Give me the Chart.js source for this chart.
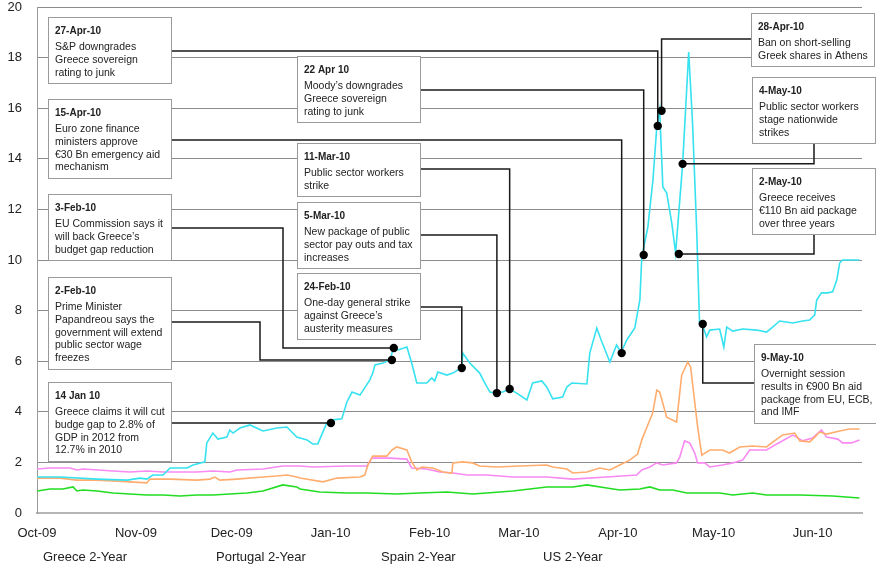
<!DOCTYPE html>
<html><head><meta charset="utf-8">
<script src="https://cdn.jsdelivr.net/npm/chart.js@4.4.0/dist/chart.umd.min.js"></script>
<style>html,body{margin:0;padding:0;background:#fff;}#wrap{width:876px;height:567px;}</style>
</head><body><div id="wrap"><canvas id="c" width="876" height="567"></canvas></div>
<script>
// x values are days since 1-Oct-2009
const monthTickDays = [0, 31, 61, 92, 123, 151, 182, 212, 243];
const monthTickLabels = ['Oct-09','Nov-09','Dec-09','Jan-10','Feb-10','Mar-10','Apr-10','May-10','Jun-10'];
const seriesNames = ['Greece 2-Year','Portugal 2-Year','Spain 2-Year','US 2-Year'];

const greeceDays = [0,7.2,18.8,28.2,32.3,34.4,36.3,39.5,41.7,47.0,48.9,52.6,53.2,55.1,56.7,59.5,60.4,61.4,63.6,66.7,70.8,75.2,78.3,81.4,84.6,86.4,88.0,90.8,92.7,95.5,97.1,98.7,101.2,104.3,105.2,105.9,108.4,110.6,111.5,113.1,115.9,117.4,119.0,122.1,123.7,124.6,125.6,128.4,130.3,131.9,133.1,133.4,135.6,138.7,140.3,141.9,144.1,145.9,148.1,150.3,153.5,155.3,158.2,159.7,161.6,164.7,166.0,167.6,172.3,173.2,175.4,177.0,179.5,181.6,182.6,183.2,184.8,187.3,188.2,188.9,189.5,191.4,193.0,194.2,195.1,196.1,197.3,198.9,200.1,202.3,204.2,205.4,206.7,207.6,208.6,209.8,210.8,213.9,215.2,216.1,218.0,221.1,225.5,228.6,230.5,232.7,236.8,239.9,242.1,243.7,244.3,245.8,247.7,249.3,250.6,251.5,252.4,257.7];
const greeceYields = [1.42,1.42,1.34,1.30,1.38,1.34,1.50,1.50,1.78,1.78,1.90,2.02,2.77,3.16,2.92,3.00,3.28,3.16,3.36,3.48,3.24,3.36,3.40,3.00,2.89,2.73,2.73,3.56,3.68,3.72,4.39,4.78,4.66,5.26,5.53,5.85,5.93,6.05,6.44,6.44,6.56,5.93,5.14,5.14,5.34,5.22,5.57,5.45,5.53,5.65,5.73,6.32,5.93,5.53,5.14,4.78,4.74,4.78,4.90,4.74,4.47,5.14,5.22,4.98,4.51,4.58,4.98,5.14,5.10,6.32,7.31,6.76,5.97,6.64,6.44,6.40,6.84,7.31,7.94,8.42,10.12,11.30,13.16,15.26,15.93,12.89,12.65,11.46,10.28,13.79,18.22,15.42,11.19,7.51,7.40,6.96,7.23,7.27,6.56,7.35,7.19,7.27,7.23,7.15,7.35,7.59,7.51,7.59,7.63,7.83,8.42,8.70,8.70,8.74,9.21,9.88,10.0,10.0];

const portugalDays = [0,7.2,12.5,18.8,25.1,29.1,34.4,35.4,41.7,50.1,54.2,55.7,57.3,62.6,70.8,75.2,78.3,81.4,82.4,89.6,94.0,101.2,102.7,103.7,105.2,109.6,111.2,112.7,115.9,117.4,119.0,120.6,124.0,127.2,130.0,130.3,133.4,136.5,138.7,144.1,151.3,159.7,161.6,166.0,167.9,172.3,176.3,179.5,182.6,185.7,188.2,189.5,191.0,192.9,194.2,195.1,197.3,200.4,202.0,203.9,204.8,207.0,208.3,210.8,214.8,217.0,220.2,224.2,228.6,230.2,233.6,237.4,239.0,242.1,243.7,245.2,247.4,251.5,254.6,257.7];
const portugalYields = [1.38,1.38,1.30,1.30,1.26,1.23,1.19,1.34,1.34,1.30,1.34,1.42,1.30,1.34,1.42,1.46,1.50,1.42,1.38,1.23,1.38,1.42,1.50,1.90,2.25,2.25,2.49,2.61,2.49,2.02,1.70,1.82,1.78,1.62,1.58,1.98,2.02,1.98,1.86,1.82,1.86,1.90,1.82,1.74,1.58,1.62,1.78,1.70,1.90,2.09,2.33,2.89,3.36,3.95,4.86,4.78,3.79,3.60,5.45,5.97,5.77,3.40,2.29,2.49,2.49,2.37,2.61,2.65,2.61,2.77,3.08,3.16,2.85,2.81,3.00,3.20,3.12,3.24,3.32,3.32];

const spainDays = [0,4.1,10.3,12.5,14.4,23.8,29.1,34.4,39.5,44.8,50.1,55.1,60.4,62.6,70.8,77.0,82.4,86.4,97.1,103.4,104.9,110.6,115.9,117.4,122.1,126.2,130.3,134.7,140.9,149.1,159.7,167.9,178.5,187.9,189.5,192.0,194.2,196.1,200.4,201.4,202.9,204.5,206.1,207.0,209.2,210.8,214.8,218.0,221.1,223.3,228.6,231.8,236.8,238.0,239.9,243.0,245.8,247.4,250.9,252.4,255.2,257.7];
const spainYields = [1.74,1.78,1.78,1.70,1.74,1.66,1.62,1.66,1.62,1.62,1.62,1.66,1.62,1.70,1.74,1.86,1.86,1.82,1.86,1.86,2.17,2.17,2.13,1.78,1.74,1.62,1.58,1.50,1.50,1.42,1.42,1.34,1.42,1.50,1.70,1.82,1.98,1.90,1.98,2.21,2.85,2.77,2.37,1.98,1.98,1.82,1.90,1.98,2.09,2.49,2.49,2.73,3.08,3.00,2.85,2.96,3.28,3.00,2.92,2.77,2.77,2.89];

const usDays = [0,4.1,8.1,11.3,12.5,14.4,18.8,23.8,29.1,34.4,39.5,44.8,50.1,55.1,60.4,65.8,70.8,77.0,81.4,82.4,88.6,97.1,103.4,112.7,120.0,128.4,136.5,140.9,149.1,159.7,167.9,172.3,178.5,182.6,188.9,192.0,195.1,199.2,203.6,207.6,213.9,218.0,224.2,228.6,239.0,249.3,257.7];
const usYields = [0.87,0.95,0.95,1.03,0.87,0.91,0.87,0.79,0.75,0.71,0.71,0.67,0.71,0.71,0.75,0.79,0.87,1.11,1.03,0.95,0.83,0.79,0.79,0.75,0.79,0.83,0.75,0.79,0.87,1.03,1.03,1.11,0.99,0.91,0.95,1.03,0.91,0.91,0.79,0.79,0.79,0.71,0.79,0.71,0.71,0.67,0.59];

// annotated events (marker sits on the Greece line)
const eventTitles = ['14 Jan 10','2-Feb-10','3-Feb-10','24-Feb-10','5-Mar-10','11-Mar-10','15-Apr-10','22 Apr 10','27-Apr-10','28-Apr-10','2-May-10','4-May-10','9-May-10'];
const eventTexts = [
  ['Greece claims it will cut','budge gap to 2.8% of','GDP in 2012 from','12.7% in 2010'],
  ['Prime Minister','Papandreou says the','government will extend','public sector wage','freezes'],
  ['EU Commission says it','will back Greece\u2019s','budget gap reduction'],
  ['One-day general strike','against Greece\u2019s','austerity measures'],
  ['New package of public','sector pay outs and tax','increases'],
  ['Public sector workers','strike'],
  ['Euro zone finance','ministers approve','\u20ac30 Bn emergency aid','mechanism'],
  ['Moody\u2019s downgrades','Greece sovereign','rating to junk'],
  ['S&P downgrades','Greece sovereign','rating to junk'],
  ['Ban on short-selling','Greek shares in Athens'],
  ['Greece receives','\u20ac110 Bn aid package','over three years'],
  ['Public sector workers','stage nationwide','strikes'],
  ['Overnight session','results in \u20ac900 Bn aid','package from EU, ECB,','and IMF']
];
const eventDotDays   = [92.1,111.2,111.8,133.1,144.1,148.1,183.2,190.1,194.5,195.7,201.1,202.3,208.6];
const eventDotYields = [3.56,6.05,6.52,5.73,4.74,4.90,6.32,10.2,15.3,15.9,10.24,13.8,7.47];

// box layout (pixels) and connector routing
const boxLayout = [
  {left:48, top:382, route:'rightHV', ay:41},
  {left:48, top:277, route:'rightHVH', ay:45, midX:260},
  {left:48, top:194, route:'rightHVH', ay:34, midX:283},
  {left:297, top:273, route:'rightHV', ay:34},
  {left:297, top:202, route:'rightHV', ay:33},
  {left:297, top:143, route:'rightHV', ay:26},
  {left:48, top:99, route:'rightHV', ay:41},
  {left:297, top:56, route:'rightHV', ay:34},
  {left:48, top:17, route:'rightHV', ay:34},
  {left:751, top:13, route:'leftHV', ay:26},
  {left:752, top:168, route:'bottomVH', ax:62},
  {left:752, top:77, route:'bottomVH', ax:62},
  {left:754, top:344, route:'leftHV', ay:39}
];
const legendX = [43, 216, 381, 543];
const FONT = '"Liberation Sans", Arial, sans-serif';

function pts(days, vals){ return days.map((d,i)=>({x:d, y:vals[i]})); }

const annotPlugin = {
  id:'annot',
  afterDatasetsDraw(chart){
    const ctx = chart.ctx, xs = chart.scales.x, ys = chart.scales.y;
    ctx.save();
    const dots = [];
    eventTitles.forEach((title, i) => {
      const L = boxLayout[i], lines = eventTexts[i];
      const w = 123, h = Math.round(28 + 12.7*lines.length);
      const dx = xs.getPixelForValue(eventDotDays[i]);
      const dy = ys.getPixelForValue(eventDotYields[i]);
      dots.push([dx,dy]);
      ctx.strokeStyle = '#1a1a1a'; ctx.lineWidth = 1.5;
      ctx.beginPath();
      if (L.route === 'rightHV') {
        ctx.moveTo(L.left+w, L.top+L.ay); ctx.lineTo(dx, L.top+L.ay); ctx.lineTo(dx, dy);
      } else if (L.route === 'rightHVH') {
        ctx.moveTo(L.left+w, L.top+L.ay); ctx.lineTo(L.midX, L.top+L.ay); ctx.lineTo(L.midX, dy); ctx.lineTo(dx, dy);
      } else if (L.route === 'leftHV') {
        ctx.moveTo(L.left, L.top+L.ay); ctx.lineTo(dx, L.top+L.ay); ctx.lineTo(dx, dy);
      } else if (L.route === 'bottomVH') {
        ctx.moveTo(L.left+L.ax, L.top+h); ctx.lineTo(L.left+L.ax, dy); ctx.lineTo(dx, dy);
      }
      ctx.stroke();
      ctx.fillStyle = '#fff';
      ctx.fillRect(L.left, L.top, w, h);
      ctx.strokeStyle = '#9a9a9a'; ctx.lineWidth = 1;
      ctx.strokeRect(L.left+0.5, L.top+0.5, w, h);
      ctx.fillStyle = '#222';
      ctx.textBaseline = 'middle'; ctx.textAlign = 'left';
      ctx.font = 'bold 10px ' + FONT;
      ctx.fillText(title, L.left+7, L.top+14);
      ctx.font = '10.5px ' + FONT;
      lines.forEach((t, k) => ctx.fillText(t, L.left+7, L.top+30.5+k*12.7));
    });
    ctx.fillStyle = '#000';
    dots.forEach(([x,y]) => { ctx.beginPath(); ctx.arc(x, y, 4.2, 0, Math.PI*2); ctx.fill(); });
    // legend (text only)
    ctx.font = '13px ' + FONT; ctx.fillStyle = '#222'; ctx.textBaseline = 'middle';
    chart.data.datasets.forEach((ds, i) => ctx.fillText(ds.label, legendX[i], 557));
    ctx.restore();
  }
};

new Chart(document.getElementById('c'), {
  type: 'line',
  data: {
    datasets: [
      {label: seriesNames[0], data: pts(greeceDays, greeceYields), borderColor:'#36E2F0'},
      {label: seriesNames[1], data: pts(portugalDays, portugalYields), borderColor:'#FFAD6E'},
      {label: seriesNames[2], data: pts(spainDays, spainYields), borderColor:'#F88AF2'},
      {label: seriesNames[3], data: pts(usDays, usYields), borderColor:'#22DD22'}
    ].map(d => Object.assign(d, {borderWidth:1.6, pointRadius:0, tension:0, fill:false}))
  },
  options: {
    responsive:false, animation:false, devicePixelRatio:1,
    layout:{padding:{top:7, right:14, left:0, bottom:0}},
    plugins:{legend:{display:false}, tooltip:{enabled:false}},
    scales:{
      x:{
        type:'linear', min:0, max:258.5,
        afterBuildTicks: s => { s.ticks = monthTickDays.map(v => ({value:v})); },
        afterFit: s => { s.height = 54; s.paddingLeft = 0; s.paddingRight = 0; },
        ticks:{autoSkip:false, maxRotation:0, padding:13, color:'#222',
          font:{family:FONT, size:13},
          callback: v => monthTickLabels[monthTickDays.indexOf(v)]},
        grid:{display:false, drawTicks:false},
        border:{display:true, color:'#b5b5b5', width:2}
      },
      y:{
        min:0, max:20,
        afterFit: s => { s.width = 37; s.paddingTop = 0; s.paddingBottom = 0; },
        ticks:{stepSize:2, padding:15, color:'#222', font:{family:FONT, size:13}},
        grid:{color:'#8c8c8c', lineWidth:1, drawTicks:false},
        border:{display:true, color:'#9a9a9a', width:1}
      }
    }
  },
  plugins:[annotPlugin]
});
</script>
</body></html>
